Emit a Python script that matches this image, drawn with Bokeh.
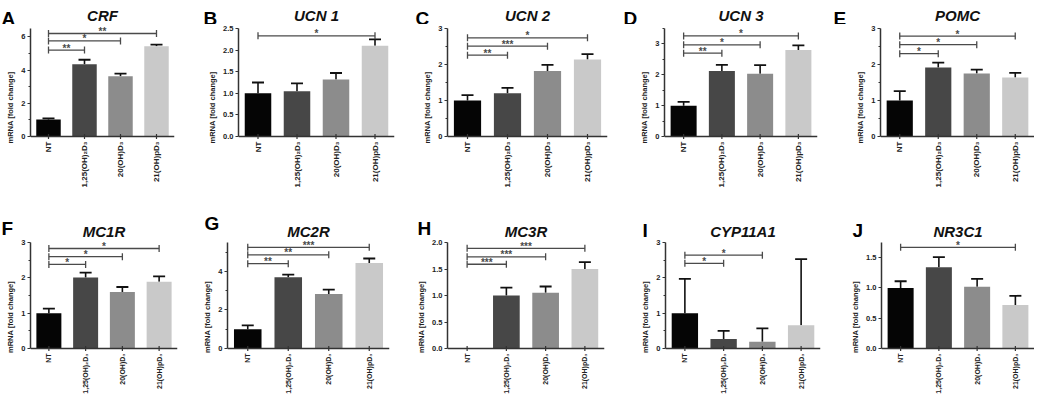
import math
from bokeh.plotting import figure
from bokeh.models import (FactorRange, Range1d, FixedTicker, ColumnDataSource,
                          Whisker, TeeHead, PrintfTickFormatter, Span)
from bokeh.transform import dodge
from bokeh.layouts import column, row
from bokeh.embed import file_html
from bokeh.resources import INLINE

# ---------------- data ----------------
groups = ["NT", "1,25(OH)\u2082D\u2083", "20(OH)D\u2083", "21(OH)pD\u2083"]
bar_colors = ["#050505", "#474747", "#8c8c8c", "#c9c9c9"]

letters = ["A", "B", "C", "D", "E", "F", "G", "H", "I", "J"]
genes = ["CRF", "UCN 1", "UCN 2", "UCN 3", "POMC", "MC1R", "MC2R", "MC3R", "CYP11A1", "NR3C1"]

crf_mean = [1.03, 4.35, 3.62, 5.43]
crf_err = [0.06, 0.27, 0.16, 0.10]
ucn1_mean = [1.00, 1.05, 1.32, 2.10]
ucn1_err = [0.25, 0.18, 0.15, 0.15]
ucn2_mean = [1.00, 1.20, 1.82, 2.14]
ucn2_err = [0.15, 0.15, 0.17, 0.15]
ucn3_mean = [1.00, 2.12, 2.03, 2.80]
ucn3_err = [0.12, 0.20, 0.28, 0.15]
pomc_mean = [1.00, 1.92, 1.75, 1.64]
pomc_err = [0.26, 0.13, 0.11, 0.13]
mc1r_mean = [1.00, 2.01, 1.60, 1.89]
mc1r_err = [0.13, 0.14, 0.14, 0.15]
mc2r_mean = [1.00, 3.70, 2.83, 4.43]
mc2r_err = [0.20, 0.13, 0.23, 0.24]
mc3r_mean = [0.00, 1.00, 1.05, 1.50]
mc3r_err = [0.00, 0.15, 0.12, 0.13]
cyp_mean = [1.00, 0.27, 0.19, 0.66]
cyp_err = [0.97, 0.23, 0.38, 1.87]
nr3c1_mean = [1.00, 1.34, 1.02, 0.72]
nr3c1_err = [0.11, 0.17, 0.13, 0.15]

means = [crf_mean, ucn1_mean, ucn2_mean, ucn3_mean, pomc_mean,
         mc1r_mean, mc2r_mean, mc3r_mean, cyp_mean, nr3c1_mean]
errs = [crf_err, ucn1_err, ucn2_err, ucn3_err, pomc_err,
        mc1r_err, mc2r_err, mc3r_err, cyp_err, nr3c1_err]

y_max = [6.5, 2.5, 3.0, 3.5, 3.0, 3.0, 5.5, 2.0, 3.0, 1.75]
y_ticks = [[0, 2, 4, 6], [0, 0.5, 1.0, 1.5, 2.0, 2.5], [0, 1, 2, 3], [0, 1, 2, 3], [0, 1, 2, 3],
           [0, 1, 2, 3], [0, 2, 4], [0, 0.5, 1.0, 1.5, 2.0], [0, 1, 2, 3], [0, 0.5, 1.0, 1.5]]
y_minor = [[1, 3, 5], [], [0.5, 1.5, 2.5], [0.5, 1.5, 2.5, 3.5], [0.5, 1.5, 2.5],
           [0.5, 1.5, 2.5], [1, 3, 5], [], [0.5, 1.5, 2.5], []]
y_decimals = [0, 1, 0, 0, 0, 0, 0, 1, 0, 1]

# significance brackets: (target group index, bracket height, stars)
brackets = [
    [(1, 5.2, "**"), (2, 5.75, "*"), (3, 6.2, "**")],
    [(3, 2.33, "*")],
    [(1, 2.26, "**"), (2, 2.51, "***"), (3, 2.74, "*")],
    [(1, 2.70, "**"), (2, 2.97, "*"), (3, 3.26, "*")],
    [(1, 2.30, "*"), (2, 2.55, "*"), (3, 2.79, "*")],
    [(1, 2.38, "*"), (2, 2.60, "*"), (3, 2.83, "*")],
    [(1, 4.40, "**"), (2, 4.86, "**"), (3, 5.25, "***")],
    [(1, 1.59, "***"), (2, 1.73, "***"), (3, 1.89, "***")],
    [(1, 2.41, "*"), (2, 2.64, "*")],
    [(3, 1.67, "*")],
]

# ---------------- layout (sizes/positions, pixels) ----------------
FONT = "Liberation Sans"
TOTAL_W = 1034
widths = [202, 212, 208, 210, 202, 197, 214, 214, 210, 199]
starts = [0, 202, 414, 622, 832, 0, 197, 411, 625, 835]
left_b = [30, 36, 33, 42, 48, 30, 30, 36, 40, 46]
right_b = [28, 20, 15, 15, 0, 20, 22, 21, 15, 0]
head_h = [24, 48]                        # header strip (letters + gene names) per row
main_h = [166] * 5 + [157] * 5
headroom = 4                             # px above the y-axis top inside the plot frame
zero_px = [108] * 5 + [106] * 5          # px from y-axis top to y = 0
title_base = [15] * 5 + [41] * 5         # baseline of gene name inside header
letter_dx = [1, 1, 1, 1, 1, 1, 7, 6, 17, 17]
letter_base = [18, 18, 18, 18, 18, 38, 33, 38, 40, 40]
xlab_size = ["8px"] * 5 + ["7px"] * 5
bracket_color = "#4a4a4a"
axis_color = "#333333"
text_color = "#222222"


def header(r):
    idx = range(5 * r, 5 * r + 5)
    hh = head_h[r]
    h = figure(width=TOTAL_W, height=hh, output_backend="svg", toolbar_location=None,
               x_range=Range1d(0, TOTAL_W), y_range=Range1d(hh, 0),
               x_axis_location=None, y_axis_location=None,
               min_border_left=0, min_border_right=0, min_border_top=0, min_border_bottom=0)
    h.outline_line_color = None
    h.background_fill_color = None
    h.border_fill_color = None
    h.xgrid.visible = False
    h.ygrid.visible = False
    h.text(x=[starts[i] + letter_dx[i] for i in idx], y=[letter_base[i] for i in idx],
           text=[letters[i] for i in idx], text_align="left", text_baseline="alphabetic",
           text_font={"value": FONT}, text_font_style="bold", text_font_size="19px",
           text_color="#000000")
    h.text(x=[starts[i] + left_b[i] + (widths[i] - left_b[i] - right_b[i]) / 2.0 for i in idx],
           y=[title_base[i] for i in idx], text=[genes[i] for i in idx],
           text_align="center", text_baseline="alphabetic", text_font={"value": FONT},
           text_font_style="bold italic", text_font_size="15px", text_color="#111111")
    return h


def panel(i):
    w = widths[i]
    upp = y_max[i] / zero_px[i]          # data units per pixel
    y_hi = y_max[i] + headroom * upp
    y_lo = -(main_h[i] - headroom - zero_px[i]) * upp

    p = figure(width=w, height=main_h[i], output_backend="svg", toolbar_location=None,
               x_range=FactorRange(factors=groups, range_padding=0.0),
               y_range=Range1d(y_lo, y_hi), x_axis_location=None,
               min_border_left=left_b[i], min_border_right=right_b[i],
               min_border_top=0, min_border_bottom=0)
    p.outline_line_color = None
    p.background_fill_color = None
    p.border_fill_color = None
    p.xgrid.visible = False
    p.ygrid.visible = False

    src = ColumnDataSource(dict(x=groups, top=means[i], color=bar_colors))
    p.vbar(x="x", top="top", bottom=0, width=0.68, source=src, fill_color="color", line_color=None)

    wx = [g for g, e in zip(groups, errs[i]) if e > 0]
    wl = [m for m, e in zip(means[i], errs[i]) if e > 0]
    wu = [m + e for m, e in zip(means[i], errs[i]) if e > 0]
    wsrc = ColumnDataSource(dict(x=wx, lower=wl, upper=wu))
    p.add_layout(Whisker(base="x", lower="lower", upper="upper", source=wsrc, dimension="height",
                         line_color="#111111", line_width=1.6,
                         upper_head=TeeHead(size=12, line_color="#111111", line_width=1.8),
                         lower_head=None))

    for (t, yb, stars) in brackets[i]:
        p.segment(x0=[groups[0]], x1=[groups[t]], y0=[yb], y1=[yb],
                  line_color=bracket_color, line_width=1.3)
        p.scatter(x=[groups[0], groups[t]], y=[yb, yb], marker="dash", angle=math.pi / 2,
                  size=7, line_color=bracket_color, line_width=1.3)
        ssrc = ColumnDataSource(dict(x=[groups[0]], y=[yb], s=[stars]))
        p.text(x=dodge("x", t / 2.0, range=p.x_range), y="y", text="s", source=ssrc,
               text_align="center", text_baseline="middle", y_offset=-2,
               text_font_size="10px", text_font_style="bold", text_color=bracket_color,
               text_font={"value": FONT})

    # x axis: line at y = 0, small ticks, rotated category labels
    p.add_layout(Span(location=0, dimension="width", line_color=axis_color, line_width=1.5))
    p.scatter(x=groups, y=[0] * 4, marker="dash", angle=math.pi / 2, size=5,
              line_color=axis_color, line_width=1.2)
    p.text(x=groups, y=[0] * 4, text=groups, angle=math.pi / 2, text_align="right",
           text_baseline="middle", y_offset=5, text_font={"value": FONT},
           text_font_style="bold", text_font_size=xlab_size[i], text_color=text_color)

    # y axis
    ax = p.yaxis[0]
    ax.bounds = (0, y_max[i])
    ax.axis_line_color = axis_color
    ax.axis_line_width = 1.5
    ax.major_tick_line_color = axis_color
    ax.major_tick_line_width = 1.2
    ax.minor_tick_line_color = axis_color
    ax.ticker = FixedTicker(ticks=y_ticks[i], minor_ticks=y_minor[i])
    ax.formatter = PrintfTickFormatter(format="%." + str(y_decimals[i]) + "f")
    ax.major_tick_in = 0
    ax.major_tick_out = 3
    ax.minor_tick_in = 0
    ax.minor_tick_out = 2
    ax.major_label_text_font = FONT
    ax.major_label_text_font_style = "bold"
    ax.major_label_text_color = text_color
    ax.major_label_text_font_size = "7.5px"
    ax.major_label_standoff = 2
    ax.axis_label = "mRNA [fold change]"
    ax.axis_label_text_font = FONT
    ax.axis_label_text_font_style = "bold"
    ax.axis_label_text_font_size = "7.5px"
    ax.axis_label_standoff = 3
    ax.axis_label_text_color = text_color
    return p


layout = column(header(0), row(*[panel(i) for i in range(5)], spacing=0),
                header(1), row(*[panel(i) for i in range(5, 10)], spacing=0), spacing=0)
open("out.html", "w").write(file_html(layout, INLINE))
